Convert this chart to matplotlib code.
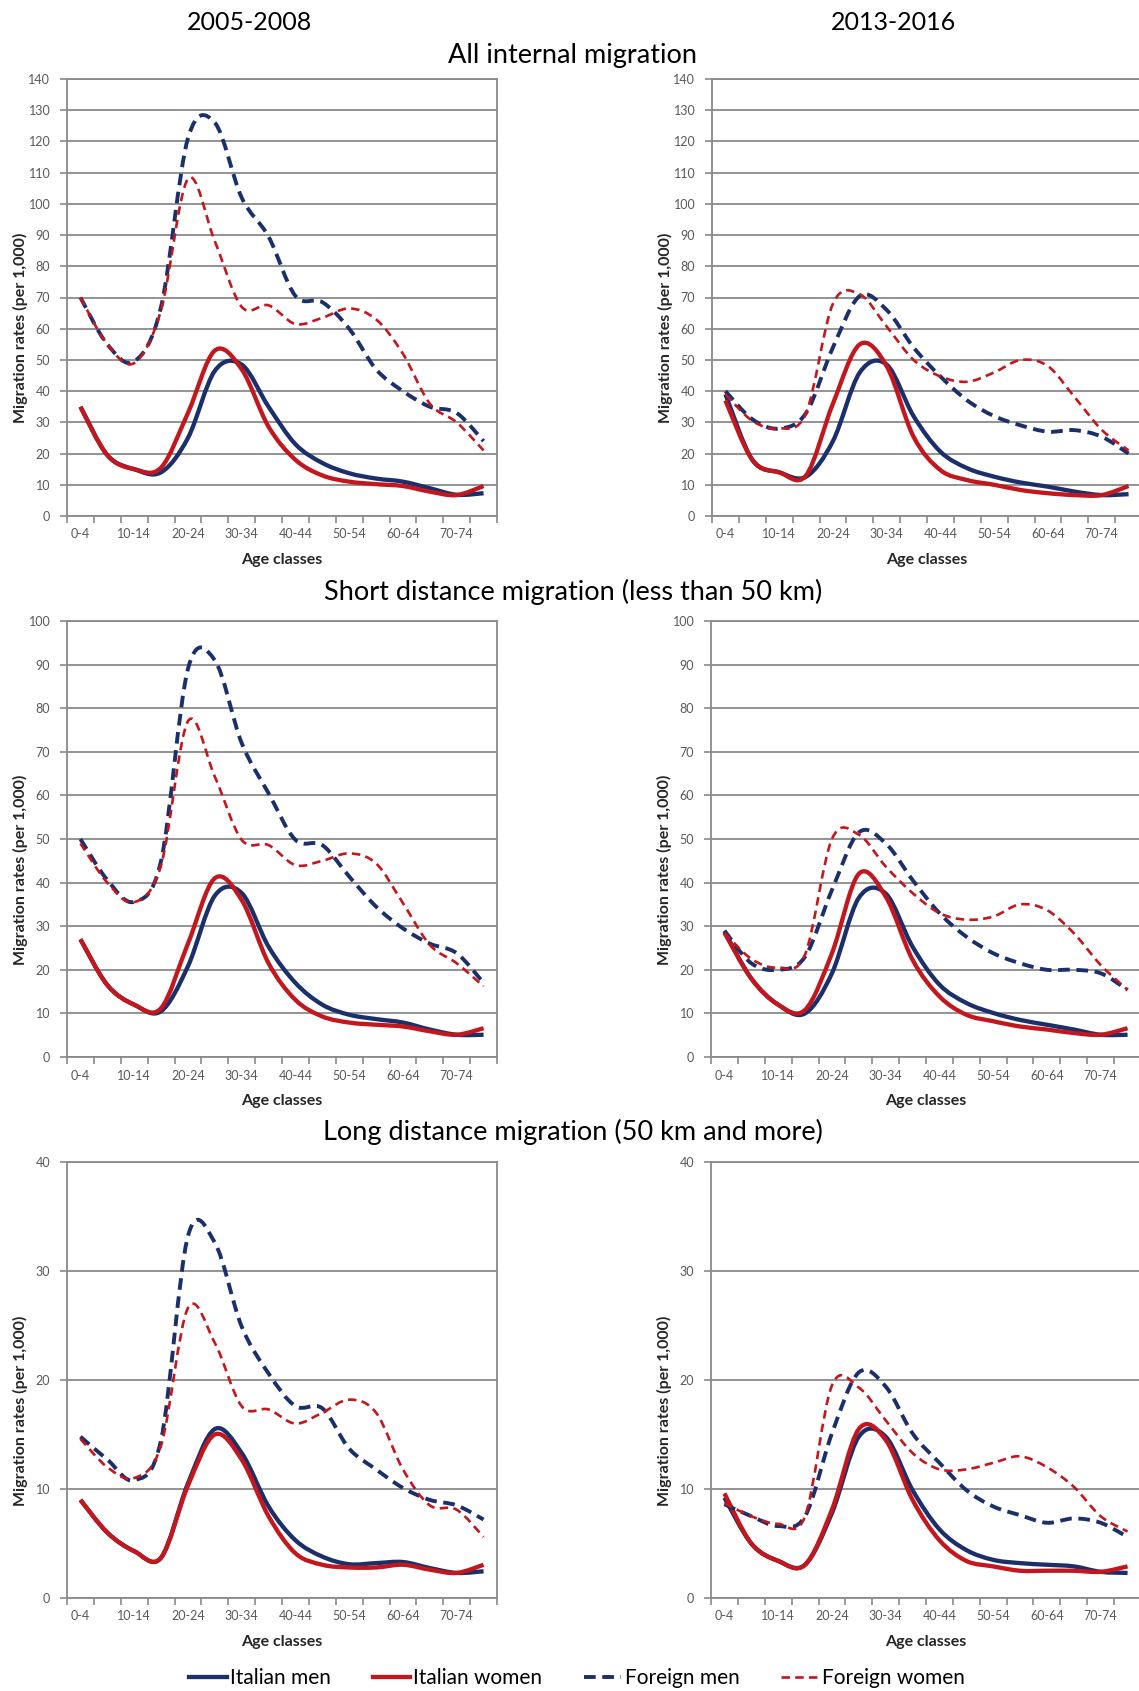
import numpy as np
import matplotlib
matplotlib.use("Agg")
import matplotlib.pyplot as plt
from matplotlib.path import Path
from matplotlib.patches import PathPatch
from matplotlib.lines import Line2D

plt.rcParams['font.family'] = ['Lato', 'DejaVu Sans']

# age classes 0-4 ... 75-79
ages = ['0-4', '5-9', '10-14', '15-19', '20-24', '25-29', '30-34', '35-39',
        '40-44', '45-49', '50-54', '55-59', '60-64', '65-69', '70-74', '75-79']

# All internal migration, 2005-2008
all_0508_it_men = [35, 19.5, 15, 14, 25, 46.5, 48.5, 35, 23, 17, 13.7, 12, 11, 8.9, 6.8, 7.3]
all_0508_it_women = [35, 19.5, 15, 15.5, 33, 53, 47, 28.6, 18, 13, 11, 10.2, 9.6, 7.8, 6.7, 9.6]
all_0508_fo_men = [70, 55, 49.5, 67, 121, 126, 102, 89.5, 70.5, 68.5, 60, 47, 40, 35, 33, 24]
all_0508_fo_women = [70, 55, 49, 66, 108, 88, 67, 67.5, 61.5, 63.5, 66.5, 63, 52, 36, 30, 21]

# All internal migration, 2013-2016
all_1316_it_men = [39, 18, 14, 12.6, 24, 46, 48.5, 32, 20.6, 15.3, 12.6, 10.7, 9.4, 7.8, 6.7, 7]
all_1316_it_women = [37, 18, 14, 13, 36, 55, 48, 25.4, 14.7, 11.5, 10, 8.3, 7.3, 6.7, 6.7, 9.6]
all_1316_fo_men = [40, 31, 28, 33, 54, 70.5, 66, 54, 44.7, 37, 32, 29, 27, 27.5, 25.4, 20]
all_1316_fo_women = [39, 30.5, 28, 33, 68, 71, 60.7, 50, 44.7, 43, 46, 50, 48, 38, 27.6, 21]

# Short distance migration, 2005-2008
sh_0508_it_men = [27, 16.5, 12, 10.5, 20.8, 37, 37.6, 25.3, 17, 12, 9.7, 8.7, 7.9, 6.3, 5.1, 5.1]
sh_0508_it_women = [27, 16.5, 12, 11.2, 26, 41, 36, 21.5, 13.1, 9.3, 7.9, 7.4, 7, 5.9, 5.1, 6.6]
sh_0508_fo_men = [50, 40.6, 35.6, 45, 89, 91, 72, 60.5, 49.8, 48.6, 41.4, 34.5, 29.5, 26, 23.8, 17]
sh_0508_fo_women = [49, 40, 35.5, 44, 77, 64.3, 49.8, 48.6, 44, 45, 46.7, 44.4, 35.3, 25.7, 21.5, 16.2]

# Short distance migration, 2013-2016
sh_1316_it_men = [28.8, 18, 12, 10, 19.2, 36.5, 37.5, 25.3, 16.6, 12.4, 10.1, 8.5, 7.4, 6.3, 5.1, 5.1]
sh_1316_it_women = [28.5, 18, 12, 10.8, 23.8, 42, 36.8, 22.3, 13.9, 9.7, 8.2, 7, 6.3, 5.5, 5.1, 6.6]
sh_1316_fo_men = [29, 21.5, 20, 23, 38.3, 51.5, 49, 40.6, 33, 27.6, 23.8, 21.5, 20, 20, 19.2, 15.4]
sh_1316_fo_women = [28.5, 22.5, 20.5, 23.5, 50, 51, 43.7, 37.6, 33, 31.5, 32.2, 35, 33.7, 28.4, 21.1, 15.4]

# Long distance migration, 2005-2008
lg_0508_it_men = [9, 6, 4.3, 3.7, 10.5, 15.5, 13.3, 8.4, 5.3, 3.8, 3.1, 3.2, 3.3, 2.75, 2.3, 2.45]
lg_0508_it_women = [9, 6, 4.3, 3.7, 10.3, 15, 12.7, 7.5, 4.1, 3.05, 2.8, 2.8, 3.05, 2.6, 2.3, 3.05]
lg_0508_fo_men = [14.8, 12.7, 10.8, 14.5, 33.2, 32.6, 24.9, 20.6, 17.6, 17.4, 13.7, 11.8, 10.1, 9, 8.5, 7.2]
lg_0508_fo_women = [14.6, 12, 11, 14, 26.6, 23.4, 17.6, 17.3, 16, 17, 18.2, 17, 11.8, 8.5, 8.1, 5.6]

# Long distance migration, 2013-2016
lg_1316_it_men = [9.2, 5, 3.4, 3.05, 7.8, 14.8, 14.8, 9.9, 6.3, 4.4, 3.5, 3.2, 3.05, 2.9, 2.4, 2.3]
lg_1316_it_women = [9.6, 5, 3.4, 3.05, 8.1, 15.5, 14.5, 9, 5.3, 3.4, 2.9, 2.5, 2.5, 2.5, 2.4, 2.9]
lg_1316_fo_men = [8.6, 7.5, 6.6, 7.5, 15.1, 20.7, 19.4, 15.1, 12.4, 9.9, 8.4, 7.6, 6.9, 7.3, 6.9, 5.6]
lg_1316_fo_women = [8.7, 7.5, 6.8, 7.5, 19.5, 19.3, 16.3, 13.3, 11.8, 11.8, 12.4, 13, 12, 10.2, 7.5, 6.1]

series_names = ['Italian men', 'Italian women', 'Foreign men', 'Foreign women']

W, H = 1139, 1691
BLUE = '#1b2f6b'
RED = '#c3161d'
GRID = '#8a8a8a'
TICKC = '#595959'

styles = [
    dict(color=BLUE, lw=3.1, ls='-'),
    dict(color=RED, lw=3.1, ls='-'),
    dict(color=BLUE, lw=2.8, ls=(0, (3.0, 1.7))),
    dict(color=RED, lw=1.9, ls=(0, (3.2, 2.0))),
]


def smooth_path(ys):
    # smoothed line through the points, like the spreadsheet's "smoothed line"
    pts = np.column_stack([np.arange(len(ys)), ys]).astype(float)
    n = len(pts)
    verts = [pts[0]]
    codes = [Path.MOVETO]
    for i in range(n - 1):
        p0 = pts[max(i - 1, 0)]
        p1 = pts[i]
        p2 = pts[i + 1]
        p3 = pts[min(i + 2, n - 1)]
        verts += [p1 + (p2 - p0) / 6, p2 - (p3 - p1) / 6, p2]
        codes += [Path.CURVE4] * 3
    return Path(verts, codes)


def rect(left, top, right, bottom):
    return [left / W, 1 - bottom / H, (right - left) / W, (bottom - top) / H]


def panel(box, data, ymax, ystep):
    ax = fig.add_axes(rect(*box))
    ax.set_xlim(-0.5, 15.5)
    ax.set_ylim(0, ymax)
    ax.set_yticks(np.arange(0, ymax + 1, ystep))
    ax.set_xticks(range(0, 16, 2))
    ax.set_xticklabels(ages[::2])
    ax.set_xticks(np.arange(-0.5, 16, 1), minor=True)
    ax.tick_params(axis='x', which='major', length=0, pad=9, labelsize=9, labelcolor=TICKC)
    ax.tick_params(axis='x', which='minor', length=5, width=1.2, color=GRID, direction='out')
    ax.tick_params(axis='y', length=5, width=1.2, color=GRID, pad=7, labelsize=9, labelcolor=TICKC)
    ax.grid(axis='y', color=GRID, lw=1.3)
    ax.set_axisbelow(True)
    for sp in ax.spines.values():
        sp.set_color(GRID)
        sp.set_linewidth(1.3)
    for ys, st in zip(data, styles):
        ax.add_patch(PathPatch(smooth_path(ys), fill=False, edgecolor=st['color'],
                               lw=st['lw'], linestyle=st['ls'], capstyle='butt',
                               joinstyle='round'))
    ax.set_ylabel('Migration rates (per 1,000)', fontsize=11.5, fontweight='bold', color='#262626')
    ax.yaxis.set_label_coords(-0.109, 0.43)
    ax.yaxis.label.set_va('center')
    ax.set_xlabel('Age classes', fontsize=11.5, fontweight='bold', color='#262626')
    ax.xaxis.set_label_coords(0.5, -0.1)
    ax.xaxis.label.set_va('center')
    return ax


fig = plt.figure(figsize=(W / 100, H / 100), dpi=100)

panel((67, 79, 497, 516), [all_0508_it_men, all_0508_it_women, all_0508_fo_men, all_0508_fo_women], 140, 10)
panel((712, 79, 1142, 516), [all_1316_it_men, all_1316_it_women, all_1316_fo_men, all_1316_fo_women], 140, 10)
panel((67, 621, 497, 1057), [sh_0508_it_men, sh_0508_it_women, sh_0508_fo_men, sh_0508_fo_women], 100, 10)
panel((711, 621, 1141, 1057), [sh_1316_it_men, sh_1316_it_women, sh_1316_fo_men, sh_1316_fo_women], 100, 10)
panel((67, 1162, 497, 1598), [lg_0508_it_men, lg_0508_it_women, lg_0508_fo_men, lg_0508_fo_women], 40, 10)
panel((711, 1162, 1141, 1598), [lg_1316_it_men, lg_1316_it_women, lg_1316_fo_men, lg_1316_fo_women], 40, 10)

fig.text(250 / W, 1 - 22 / H, '2005-2008', ha='center', va='center', fontsize=18)
fig.text(894 / W, 1 - 22 / H, '2013-2016', ha='center', va='center', fontsize=18)
fig.text(573 / W, 1 - 56 / H, 'All internal migration', ha='center', va='center', fontsize=19.5)
fig.text(573 / W, 1 - 592 / H, 'Short distance migration (less than 50 km)', ha='center', va='center', fontsize=19.5)
fig.text(573 / W, 1 - 1132 / H, 'Long distance migration (50 km and more)', ha='center', va='center', fontsize=19.5)

handles = [Line2D([], [], color=st['color'], lw=st['lw'], ls=st['ls']) for st in styles]
fig.legend(handles, series_names, loc='center', bbox_to_anchor=(577 / W, 1 - 1678 / H),
           ncol=4, frameon=False, fontsize=15, handlelength=1.8, handletextpad=0.15,
           columnspacing=2.0)

fig.savefig('out.png', dpi=100)
